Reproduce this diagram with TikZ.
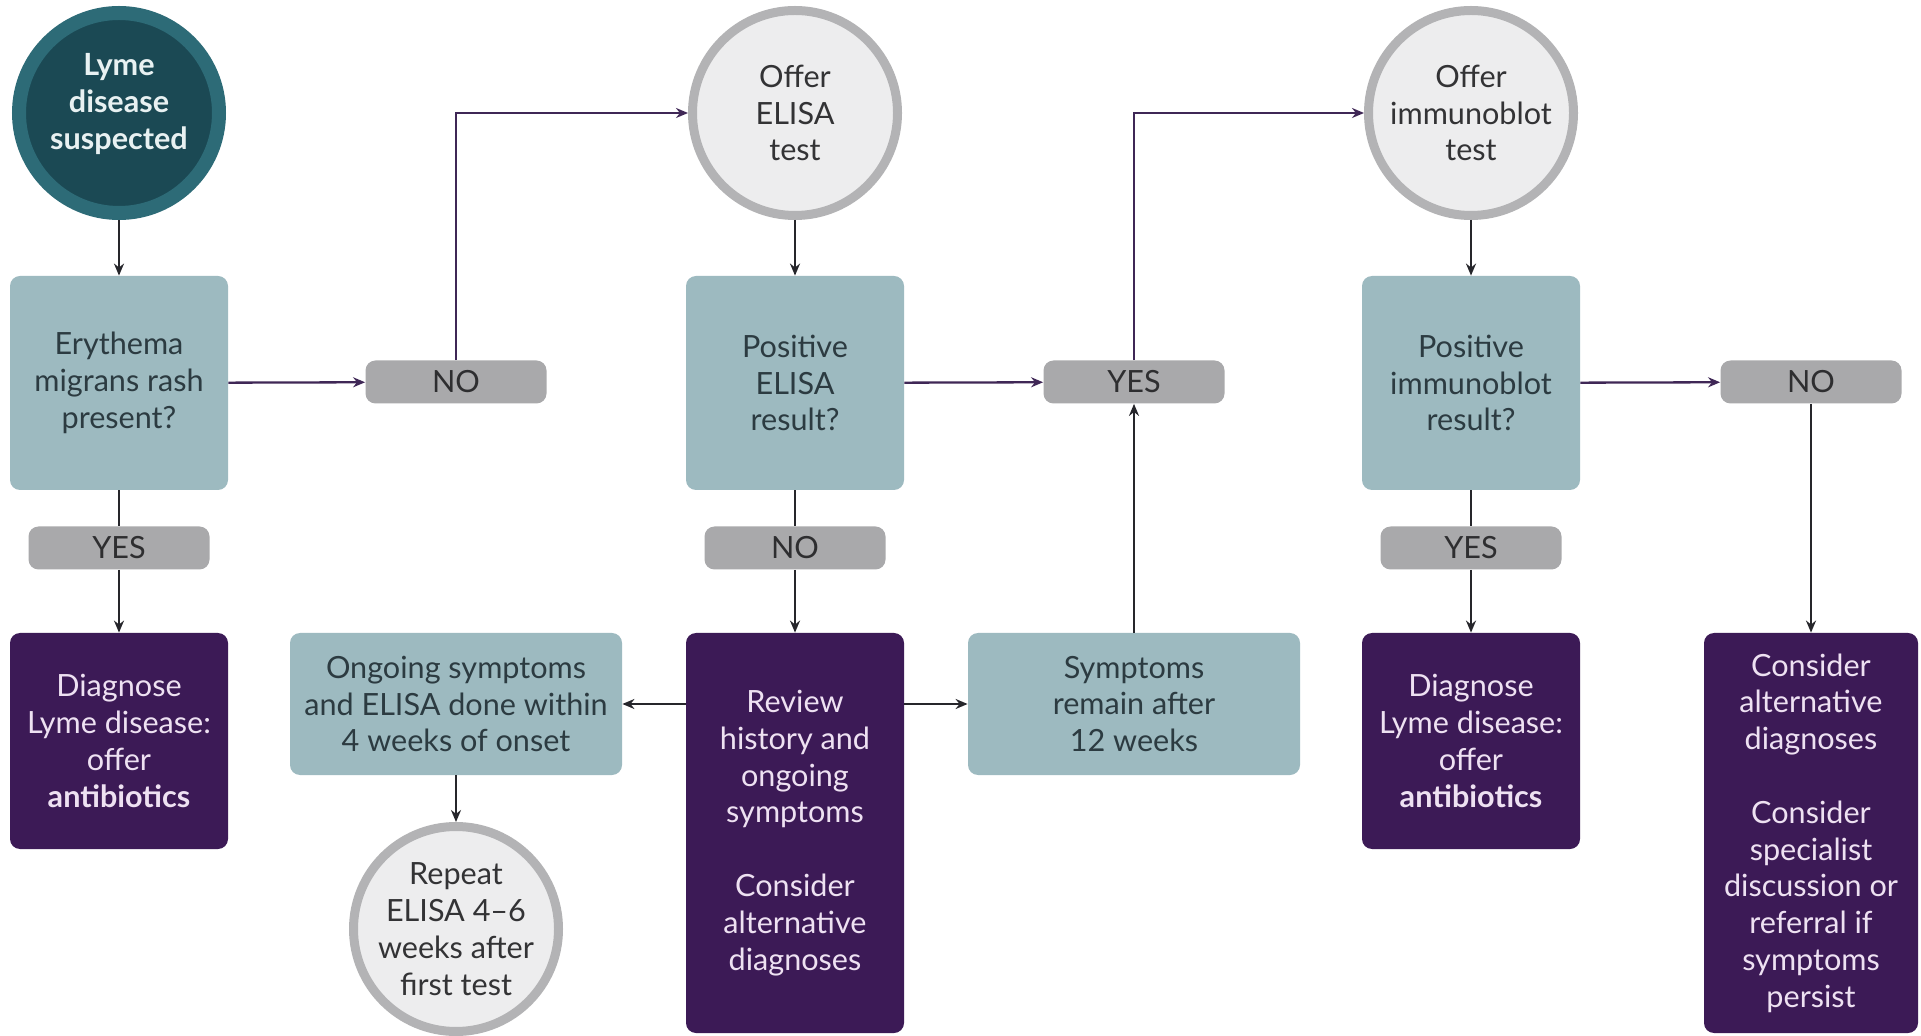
\documentclass[tikz,border=0pt]{standalone}
\usepackage{fontspec}
\setmainfont{Lato}
\usetikzlibrary{arrows.meta}
\definecolor{lymering}{HTML}{2D6B77}
\definecolor{lymeinner}{HTML}{1B4954}
\definecolor{lymetxt}{HTML}{E8F1F2}
\definecolor{tealc}{HTML}{9DBAC0}
\definecolor{tealtxt}{HTML}{2C3B41}
\definecolor{lblgray}{HTML}{A9A9AB}
\definecolor{lbltxt}{HTML}{2E2E30}
\definecolor{purp}{HTML}{3C1A56}
\definecolor{purptxt}{HTML}{EEE1F2}
\definecolor{litefill}{HTML}{EDEDEE}
\definecolor{litering}{HTML}{B3B3B5}
\definecolor{litetxt}{HTML}{333335}
\definecolor{arrowc}{HTML}{26262B}
\definecolor{purparrc}{HTML}{3F2756}
\newcommand{\mainfs}{\fontsize{15.3}{18.4}\selectfont}
\begin{document}
\begin{tikzpicture}[x=0.5pt,y=-0.5pt,
  tealbox/.style={rectangle, rounded corners=5pt, fill=tealc, text=tealtxt, align=center, inner sep=0pt, font=\mainfs},
  qbox/.style={tealbox, minimum width=109pt, minimum height=107pt},
  wbox/.style={tealbox, minimum width=166pt, minimum height=71pt},
  lbl/.style={rectangle, rounded corners=5pt, fill=lblgray, text=lbltxt, minimum width=90.5pt, minimum height=21.5pt, inner sep=0pt, font=\mainfs},
  pbox/.style={rectangle, rounded corners=5pt, fill=purp, text=purptxt, align=center, inner sep=0pt, font=\mainfs, minimum width=109pt},
  litecirc/.style={circle, fill=litefill, draw=litering, line width=4.5pt, minimum size=102.5pt, align=center, text=litetxt, inner sep=0pt, font=\mainfs},
  lymecirc/.style={circle, fill=lymeinner, draw=lymering, line width=7pt, minimum size=100pt, inner sep=0pt},
  lymetext/.style={align=center, text=lymetxt, inner sep=0pt, font=\mainfs\bfseries},
  arr/.style={-{Stealth[length=6pt,width=5pt]}, line width=1.15pt, draw=arrowc},
  parr/.style={-{Stealth[length=6pt,width=5pt]}, line width=1.15pt, draw=purparrc},
  plain/.style={line width=1.15pt, draw=arrowc}
]
\useasboundingbox (0,0) rectangle (1921,1036);
\fill[white] (0,0) rectangle (1921,1036);

% nodes
\node[lymecirc] (lyme) at (119,113) {};
\node[lymetext] (lymelabel) at (119,104) {Lyme\\disease\\suspected};
\node[qbox] (ery) at (119,383) {Erythema\\migrans rash\\present?};
\node[lbl] (yes1) at (119,548) {YES};
\node[pbox, minimum height=108pt] (diag1) at (119,741) {Diagnose\\Lyme disease:\\offer\\\textbf{antibiotics}};
\node[lbl] (no1) at (456,382) {NO};

\node[litecirc] (elisa) at (795,113) {Offer\\ELISA\\test};
\node[qbox] (pelisa) at (795,383) {Positive\\ELISA\\result?};
\node[lbl] (no2) at (795,548) {NO};
\node[pbox, minimum height=200pt] (review) at (795,833) {Review\\history and\\ongoing\\symptoms\\[18.4pt]Consider\\alternative\\diagnoses};
\node[wbox] (ongoing) at (456,704) {Ongoing symptoms\\and ELISA done within\\4 weeks of onset};
\node[litecirc] (repeat) at (456,929) {Repeat\\ELISA 4--6\\weeks after\\first test};

\node[lbl] (yes2) at (1134,382) {YES};
\node[wbox] (symp) at (1134,704) {Symptoms\\remain after\\12 weeks};

\node[litecirc] (immuno) at (1471,113) {Offer\\immunoblot\\test};
\node[qbox] (pimmuno) at (1471,383) {Positive\\immunoblot\\result?};
\node[lbl] (yes3) at (1471,548) {YES};
\node[pbox, minimum height=108pt] (diag2) at (1471,741) {Diagnose\\Lyme disease:\\offer\\\textbf{antibiotics}};
\node[lbl] (no3) at (1811,382) {NO};
\node[pbox, minimum height=200pt, minimum width=107pt] (consider) at (1811,833) {Consider\\alternative\\diagnoses\\[18.4pt]Consider\\specialist\\discussion or\\referral if\\symptoms\\persist};

% connectors
\draw[arr] (lyme) -- (ery);
\draw[parr] (ery) -- (no1);
\draw[plain] (ery) -- (yes1);
\draw[arr] (yes1) -- (diag1);
\draw[parr] (no1.north) |- (elisa.west);

\draw[arr] (elisa) -- (pelisa);
\draw[parr] (pelisa) -- (yes2);
\draw[plain] (pelisa) -- (no2);
\draw[arr] (no2) -- (review);
\draw[arr] (review.west |- ongoing.east) -- (ongoing.east);
\draw[arr] (review.east |- symp.west) -- (symp.west);
\draw[arr] (ongoing) -- (repeat);
\draw[arr] (symp) -- (yes2);
\draw[parr] (yes2.north) |- (immuno.west);

\draw[arr] (immuno) -- (pimmuno);
\draw[parr] (pimmuno) -- (no3);
\draw[plain] (pimmuno) -- (yes3);
\draw[arr] (yes3) -- (diag2);
\draw[arr] (no3) -- (consider);
\end{tikzpicture}
\end{document}
